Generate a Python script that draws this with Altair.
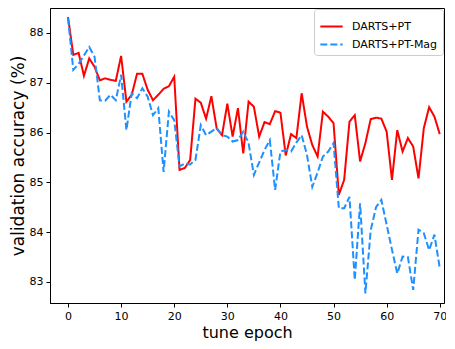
import altair as alt
import pandas as pd

epochs = list(range(71))
series_names = ["DARTS+PT", "DARTS+PT-Mag"]
darts_pt = [88.32, 87.56, 87.60, 87.14, 87.49, 87.32, 87.05, 87.09, 87.06, 87.04,
            87.54, 86.62, 86.76, 87.18, 87.18, 86.86, 86.65, 86.76, 86.88, 86.93,
            87.12, 85.25, 85.29, 85.45, 86.68, 86.60, 86.28, 86.73, 86.08, 85.95,
            86.58, 85.92, 86.49, 85.58, 86.62, 86.52, 85.92, 86.21, 86.17, 86.43,
            86.40, 85.54, 85.97, 85.89, 86.79, 86.12, 85.75, 85.52, 86.42, 86.32,
            86.19, 84.75, 85.05, 86.22, 86.35, 85.42, 85.79, 86.27, 86.30, 86.28,
            86.02, 85.05, 86.05, 85.62, 85.89, 85.72, 85.08, 86.09, 86.51, 86.32,
            85.97]
darts_pt_mag = [88.30, 87.26, 87.38, 87.55, 87.72, 87.52, 86.65, 86.64, 86.76, 86.65,
                87.16, 86.05, 86.79, 86.69, 86.89, 86.72, 86.35, 86.49, 85.21, 86.42,
                86.25, 85.32, 85.38, 85.36, 85.45, 86.15, 85.95, 86.02, 86.09, 85.95,
                85.92, 85.82, 85.85, 86.02, 85.79, 85.15, 85.40, 85.65, 85.85, 84.85,
                85.62, 85.65, 85.62, 85.80, 85.95, 85.55, 84.91, 85.20, 85.52, 85.62,
                85.79, 84.48, 84.48, 84.71, 83.04, 84.58, 82.77, 84.04, 84.50, 84.65,
                84.15, 83.65, 83.17, 83.51, 83.50, 82.84, 84.05, 83.98, 83.64, 83.95,
                83.28]
x_ticks = [0, 10, 20, 30, 40, 50, 60, 70]
y_ticks = [83, 84, 85, 86, 87, 88]

df = pd.DataFrame({
    "epoch": epochs * 2,
    "acc": darts_pt + darts_pt_mag,
    "series": [series_names[0]] * len(epochs) + [series_names[1]] * len(epochs),
})

FONT = "DejaVu Sans"

legend = alt.Legend(
    title=None, orient="top-right", offset=1,
    symbolType="stroke", symbolSize=500, symbolStrokeWidth=2,
    labelFont=FONT, labelFontSize=11, labelColor="black",
    strokeColor="#cccccc", fillColor="white", cornerRadius=3,
    padding=5, rowPadding=-7, labelOffset=8,
)

chart = alt.Chart(df).mark_line(strokeWidth=2, clip=True).encode(
    x=alt.X("epoch:Q",
            scale=alt.Scale(domain=[-3.39, 70.8], nice=False, zero=False),
            axis=alt.Axis(values=x_ticks, title="tune epoch", format="d")),
    y=alt.Y("acc:Q",
            scale=alt.Scale(domain=[82.578, 88.502], nice=False, zero=False),
            axis=alt.Axis(values=y_ticks, title="validation accuracy (%)", format="d")),
    color=alt.Color("series:N",
                    scale=alt.Scale(domain=series_names, range=["#ff0000", "#1e90ff"]),
                    legend=legend),
    strokeDash=alt.StrokeDash("series:N",
                              scale=alt.Scale(domain=series_names, range=[[1, 0], [7, 3]]),
                              legend=legend),
    order=alt.Order("epoch:Q"),
).properties(
    width=394, height=295,
    autosize=alt.AutoSizeParams(type="none"),
    padding={"left": 42, "top": 0, "right": 2, "bottom": 38},
).configure_view(
    stroke="black", strokeWidth=1,
).configure_axis(
    grid=False, domainColor="black", domainWidth=1,
    tickColor="black", tickSize=4, tickWidth=1,
    labelFont=FONT, labelFontSize=11, labelColor="black", labelPadding=3,
    titleFont=FONT, titleFontSize=17, titleFontWeight="normal", titleColor="black",
).configure_axisY(
    titlePadding=2,
).configure_axisX(
    titlePadding=3, titleFontSize=16,
)

chart.save("out.html", embed_options={"renderer": "svg", "actions": False})
